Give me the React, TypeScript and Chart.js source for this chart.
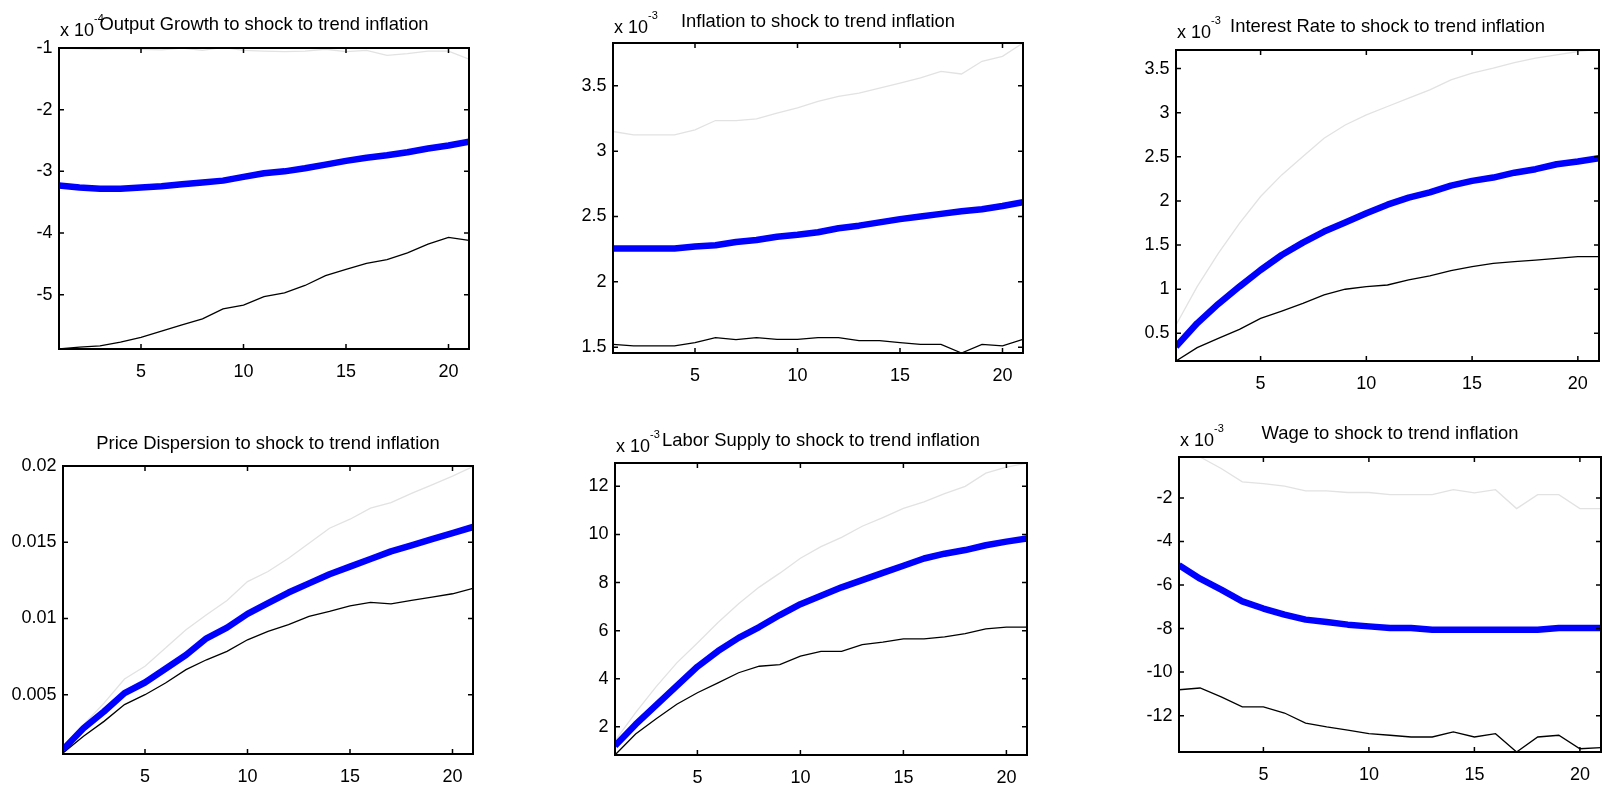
import React, { useEffect, useRef } from "react";
import { Chart, registerables } from "chart.js";

Chart.register(...registerables);
Chart.defaults.font.family = '"Liberation Sans", Arial, Helvetica, sans-serif';
Chart.defaults.color = "#000";

// ---- data ----
const horizon = [1, 2, 3, 4, 5, 6, 7, 8, 9, 10, 11, 12, 13, 14, 15, 16, 17, 18, 19, 20, 21];
const xTicks = [5, 10, 15, 20];

// Output growth (x 10^-4)
const outputMedian = [-3.23, -3.26, -3.28, -3.28, -3.26, -3.24, -3.21, -3.18, -3.15, -3.09, -3.03, -3.0, -2.95, -2.89, -2.83, -2.78, -2.74, -2.69, -2.63, -2.58, -2.52];
const outputLower = [-5.88, -5.85, -5.83, -5.77, -5.69, -5.59, -5.49, -5.39, -5.23, -5.17, -5.03, -4.97, -4.85, -4.69, -4.59, -4.49, -4.43, -4.32, -4.18, -4.07, -4.12];
const outputUpper = [-1.0, -1.01, -1.02, -1.01, -1.02, -1.03, -1.0, -1.04, -0.99, -1.04, -1.05, -1.06, -1.05, -1.02, -1.06, -1.04, -1.12, -1.09, -1.05, -1.05, -1.18];
const outputTicks = [-5, -4, -3, -2, -1];

// Inflation (x 10^-3)
const inflationMedian = [2.255, 2.255, 2.255, 2.255, 2.27, 2.28, 2.305, 2.32, 2.345, 2.36, 2.38, 2.41, 2.43, 2.455, 2.48, 2.5, 2.52, 2.54, 2.555, 2.58, 2.61];
const inflationLower = [1.522, 1.51, 1.51, 1.51, 1.535, 1.573, 1.558, 1.573, 1.56, 1.56, 1.573, 1.573, 1.55, 1.55, 1.535, 1.522, 1.522, 1.456, 1.522, 1.51, 1.56];
const inflationUpper = [3.15, 3.124, 3.124, 3.124, 3.163, 3.234, 3.234, 3.247, 3.29, 3.33, 3.38, 3.418, 3.444, 3.482, 3.52, 3.56, 3.61, 3.59, 3.687, 3.725, 3.827];
const inflationTicks = [1.5, 2, 2.5, 3, 3.5];

// Interest rate (x 10^-3)
const rateMedian = [0.35, 0.614, 0.833, 1.03, 1.218, 1.388, 1.528, 1.653, 1.755, 1.86, 1.958, 2.038, 2.098, 2.174, 2.227, 2.265, 2.32, 2.36, 2.416, 2.446, 2.484];
const rateLower = [0.187, 0.338, 0.444, 0.546, 0.67, 0.753, 0.84, 0.935, 1.0, 1.03, 1.048, 1.105, 1.15, 1.21, 1.256, 1.294, 1.312, 1.33, 1.35, 1.37, 1.37];
const rateUpper = [0.595, 1.03, 1.407, 1.747, 2.05, 2.295, 2.503, 2.71, 2.86, 2.975, 3.07, 3.164, 3.258, 3.372, 3.447, 3.504, 3.568, 3.617, 3.655, 3.693, 3.72];
const rateTicks = [0.5, 1, 1.5, 2, 2.5, 3, 3.5];

// Price dispersion
const dispMedian = [0.0014, 0.0028, 0.0039, 0.0051, 0.0058, 0.0067, 0.0076, 0.0087, 0.0094, 0.0103, 0.011, 0.0117, 0.0123, 0.0129, 0.0134, 0.0139, 0.0144, 0.0148, 0.0152, 0.0156, 0.016];
const dispLower = [0.00118, 0.00227, 0.00325, 0.00435, 0.005, 0.00577, 0.00664, 0.00729, 0.00784, 0.0086, 0.00915, 0.00959, 0.01013, 0.01046, 0.01083, 0.01105, 0.01096, 0.01118, 0.0114, 0.01162, 0.01197];
const dispUpper = [0.00162, 0.00304, 0.00445, 0.00603, 0.00686, 0.00806, 0.00926, 0.01024, 0.01118, 0.01242, 0.01308, 0.01395, 0.01493, 0.01592, 0.01651, 0.01723, 0.0176, 0.01821, 0.01876, 0.01934, 0.01996];
const dispTicks = [0.005, 0.01, 0.015, 0.02];

// Labor supply (x 10^-3)
const laborMedian = [1.21, 2.1, 2.9, 3.7, 4.5, 5.15, 5.7, 6.15, 6.65, 7.1, 7.45, 7.8, 8.1, 8.4, 8.7, 9.0, 9.2, 9.35, 9.55, 9.7, 9.83];
const laborLower = [0.83, 1.7, 2.34, 2.94, 3.42, 3.83, 4.25, 4.52, 4.59, 4.94, 5.14, 5.14, 5.42, 5.52, 5.66, 5.66, 5.74, 5.88, 6.07, 6.15, 6.15];
const laborUpper = [1.42, 2.59, 3.67, 4.66, 5.49, 6.34, 7.12, 7.81, 8.39, 9.01, 9.49, 9.88, 10.34, 10.7, 11.08, 11.35, 11.7, 12.0, 12.55, 12.8, 12.97];
const laborTicks = [2, 4, 6, 8, 10, 12];

// Wage (x 10^-3)
const wageMedian = [-5.09, -5.71, -6.21, -6.75, -7.08, -7.36, -7.59, -7.7, -7.82, -7.9, -7.97, -7.97, -8.05, -8.05, -8.05, -8.05, -8.05, -8.05, -7.97, -7.97, -7.97];
const wageLower = [-10.81, -10.73, -11.14, -11.6, -11.6, -11.88, -12.34, -12.52, -12.67, -12.83, -12.9, -12.98, -12.98, -12.75, -12.98, -12.83, -13.67, -12.98, -12.9, -13.52, -13.47];
const wageUpper = [-0.12, -0.12, -0.65, -1.26, -1.34, -1.46, -1.68, -1.68, -1.75, -1.75, -1.85, -1.85, -1.85, -1.62, -1.77, -1.62, -2.49, -1.85, -1.85, -2.49, -2.49];
const wageTicks = [-12, -10, -8, -6, -4, -2];

const titles = [
  "Output Growth to shock to trend inflation",
  "Inflation to shock to trend inflation",
  "Interest Rate to shock to trend inflation",
  "Price Dispersion to shock to trend inflation",
  "Labor Supply to shock to trend inflation",
  "Wage to shock to trend inflation",
];
const exponents = ["-4", "-3", "-3", "", "-3", "-3"];

// ---- layout ----
type Box = { l: number; t: number; r: number; b: number };
type Panel = {
  title: string;
  exponent: string;
  median: number[];
  lower: number[];
  upper: number[];
  yTicks: number[];
  yMin: number;
  yMax: number;
  box: Box;
  titleGap: number;
  expGap: number;
};

const panels: Panel[] = [
  { title: titles[0], exponent: exponents[0], median: outputMedian, lower: outputLower, upper: outputUpper, yTicks: outputTicks, yMin: -5.88, yMax: -1, box: { l: 59, t: 48, r: 469, b: 349 }, titleGap: 18, expGap: 12 },
  { title: titles[1], exponent: exponents[1], median: inflationMedian, lower: inflationLower, upper: inflationUpper, yTicks: inflationTicks, yMin: 1.456, yMax: 3.827, box: { l: 613, t: 43, r: 1023, b: 353 }, titleGap: 16.5, expGap: 10 },
  { title: titles[2], exponent: exponents[2], median: rateMedian, lower: rateLower, upper: rateUpper, yTicks: rateTicks, yMin: 0.187, yMax: 3.71, box: { l: 1176, t: 50, r: 1599, b: 361 }, titleGap: 18.3, expGap: 11.7 },
  { title: titles[3], exponent: exponents[3], median: dispMedian, lower: dispLower, upper: dispUpper, yTicks: dispTicks, yMin: 0.00111, yMax: 0.02, box: { l: 63, t: 466, r: 473, b: 754 }, titleGap: 16.7, expGap: 11 },
  { title: titles[4], exponent: exponents[4], median: laborMedian, lower: laborLower, upper: laborUpper, yTicks: laborTicks, yMin: 0.83, yMax: 12.97, box: { l: 615, t: 463, r: 1027, b: 756 }, titleGap: 17.3, expGap: 10.7 },
  { title: titles[5], exponent: exponents[5], median: wageMedian, lower: wageLower, upper: wageUpper, yTicks: wageTicks, yMin: -13.67, yMax: -0.12, box: { l: 1179, t: 457, r: 1601, b: 752 }, titleGap: 18.3, expGap: 11.3 },
];

const PAGE_W = 1602;
const PAGE_H = 789;
const FONT = '"Liberation Sans", Arial, Helvetica, sans-serif';

const framePlugin = {
  id: "frame",
  afterDraw(chart: any, _args: any, opts: any) {
    const { ctx, chartArea } = chart;
    const { left, top, right, bottom } = chartArea;
    const xs = chart.scales.x;
    const ys = chart.scales.y;
    ctx.save();
    ctx.strokeStyle = "#000";
    ctx.lineWidth = 2;
    ctx.strokeRect(left, top, right - left, bottom - top);
    ctx.lineWidth = 1.5;
    ctx.beginPath();
    const tl = 5;
    xs.ticks.forEach((t: any) => {
      const px = xs.getPixelForValue(t.value);
      ctx.moveTo(px, bottom);
      ctx.lineTo(px, bottom - tl);
      ctx.moveTo(px, top);
      ctx.lineTo(px, top + tl);
    });
    ys.ticks.forEach((t: any) => {
      const py = ys.getPixelForValue(t.value);
      ctx.moveTo(left, py);
      ctx.lineTo(left + tl, py);
      ctx.moveTo(right, py);
      ctx.lineTo(right - tl, py);
    });
    ctx.stroke();

    ctx.fillStyle = "#000";
    ctx.textBaseline = "alphabetic";
    if (opts.exponent) {
      ctx.textAlign = "left";
      ctx.font = `18px ${FONT}`;
      const base = "x 10";
      const bx = left + 1;
      const by = top - opts.expGap;
      ctx.fillText(base, bx, by);
      const w = ctx.measureText(base).width;
      ctx.font = `11px ${FONT}`;
      ctx.fillText(opts.exponent, bx + w, by - 14);
    }
    ctx.textAlign = "center";
    ctx.font = `18.4px ${FONT}`;
    ctx.fillText(opts.title, (left + right) / 2, top - opts.titleGap);
    ctx.restore();
  },
};

function PanelChart({ panel }: { panel: Panel }) {
  const ref = useRef<HTMLCanvasElement>(null);
  const { box } = panel;
  const cx = Math.max(0, box.l - 64);
  const cy = Math.max(0, box.t - 48);
  const cr = Math.min(PAGE_W, box.r + 12);
  const cb = Math.min(PAGE_H, box.b + 42);
  const cw = cr - cx;
  const ch = cb - cy;
  const yAxisW = box.l - cx;
  const xAxisH = 34;
  const padTop = box.t - cy;
  const padRight = cr - box.r;
  const padBottom = Math.max(0, ch - (box.b - cy) - xAxisH);

  useEffect(() => {
    const canvas = ref.current;
    if (!canvas) return;
    const mk = (vals: number[]) => horizon.map((x, i) => ({ x, y: vals[i] }));
    const chart = new Chart(canvas, {
      type: "line",
      data: {
        datasets: [
          { data: mk(panel.median), borderColor: "#0000ff", borderWidth: 6.5, pointRadius: 0, borderJoinStyle: "round", tension: 0 },
          { data: mk(panel.lower), borderColor: "#000000", borderWidth: 1.3, pointRadius: 0, tension: 0 },
          { data: mk(panel.upper), borderColor: "#e2e2e2", borderWidth: 1.3, pointRadius: 0, tension: 0 },
        ],
      },
      options: {
        animation: false,
        responsive: false,
        maintainAspectRatio: false,
        devicePixelRatio: 1,
        layout: { padding: { left: 0, top: padTop, right: padRight, bottom: padBottom } },
        plugins: {
          legend: { display: false },
          tooltip: { enabled: false },
          frame: { title: panel.title, exponent: panel.exponent, titleGap: panel.titleGap, expGap: panel.expGap },
        },
        scales: {
          x: {
            type: "linear",
            min: 1,
            max: 21,
            grid: { display: false, drawTicks: false },
            border: { display: false },
            ticks: { padding: 12, autoSkip: false, maxRotation: 0, font: { size: 18 }, color: "#000", callback: (v: any) => String(v) },
            afterBuildTicks: (s: any) => {
              s.ticks = xTicks.map((v) => ({ value: v }));
            },
            afterFit: (s: any) => {
              s.height = xAxisH;
            },
          },
          y: {
            type: "linear",
            min: panel.yMin,
            max: panel.yMax,
            grid: { display: false, drawTicks: false },
            border: { display: false },
            ticks: { padding: 6.5, autoSkip: false, font: { size: 18 }, color: "#000", callback: (v: any) => String(v) },
            afterBuildTicks: (s: any) => {
              s.ticks = panel.yTicks.map((v) => ({ value: v }));
            },
            afterFit: (s: any) => {
              s.width = yAxisW;
            },
          },
        },
      } as any,
      plugins: [framePlugin as any],
    });
    return () => chart.destroy();
  }, []);

  return (
    <canvas
      ref={ref}
      width={cw}
      height={ch}
      style={{ position: "absolute", left: cx, top: cy, width: cw, height: ch, display: "block" }}
    />
  );
}

export default function App() {
  return (
    <div
      style={{
        position: "absolute",
        left: 0,
        top: 0,
        width: PAGE_W,
        height: PAGE_H,
        overflow: "hidden",
        background: "#fff",
      }}
    >
      {panels.map((p, i) => (
        <PanelChart key={i} panel={p} />
      ))}
    </div>
  );
}
